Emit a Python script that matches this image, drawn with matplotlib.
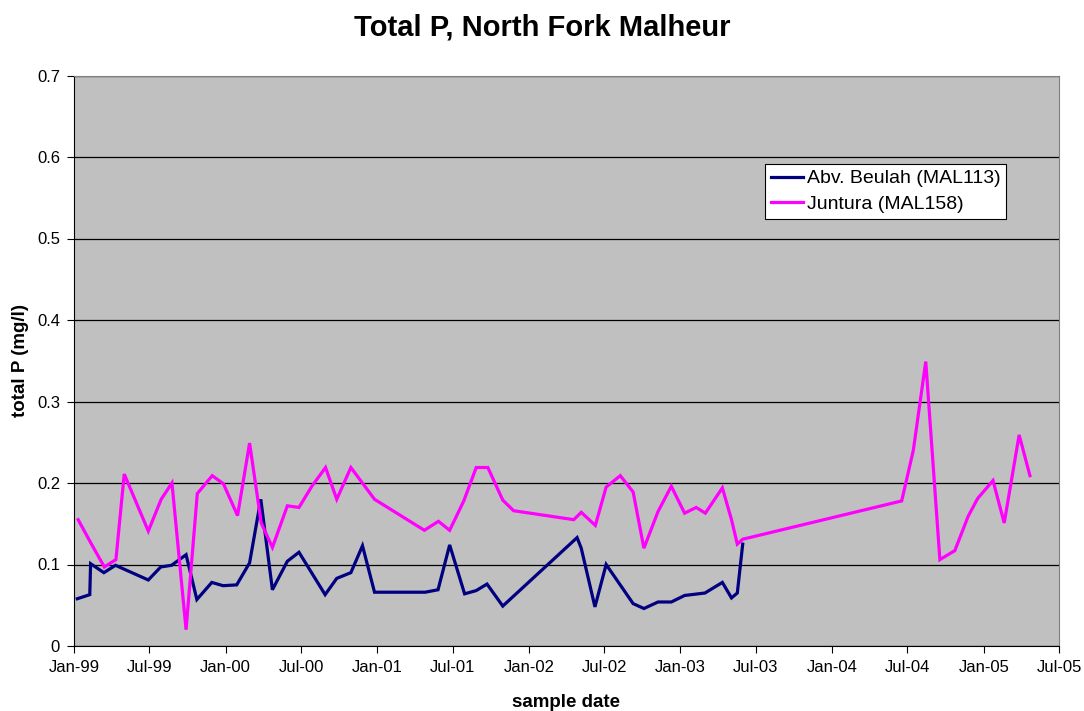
import matplotlib
matplotlib.use("Agg")
import matplotlib.pyplot as plt
import matplotlib.dates as mdates
import pandas as pd

plt.rcParams['font.family'] = ['Liberation Sans', 'DejaVu Sans']

beulah_dates = ["1999-01-09", "1999-02-08", "1999-02-10", "1999-03-14", "1999-04-11",
                "1999-06-29", "1999-07-29", "1999-08-24", "1999-09-28", "1999-10-24",
                "1999-11-29", "1999-12-26", "2000-01-28", "2000-02-28", "2000-03-26",
                "2000-04-23", "2000-05-29", "2000-06-26", "2000-08-28", "2000-09-25",
                "2000-10-29", "2000-11-26", "2000-12-25", "2001-04-26", "2001-05-27",
                "2001-06-24", "2001-07-30", "2001-08-27", "2001-09-22", "2001-10-30",
                "2002-04-27", "2002-05-07", "2002-06-09", "2002-07-06", "2002-09-09",
                "2002-10-05", "2002-11-08", "2002-12-10", "2003-01-11", "2003-03-01",
                "2003-04-12", "2003-05-04", "2003-05-18", "2003-05-31"]
beulah_vals = [0.058, 0.063, 0.101, 0.090, 0.099,
               0.081, 0.097, 0.099, 0.112, 0.057,
               0.078, 0.074, 0.075, 0.102, 0.180,
               0.069, 0.104, 0.115, 0.063, 0.083,
               0.090, 0.123, 0.066, 0.066, 0.069,
               0.124, 0.064, 0.068, 0.076, 0.049,
               0.133, 0.120, 0.048, 0.100, 0.052,
               0.046, 0.054, 0.054, 0.062, 0.065,
               0.078, 0.059, 0.065, 0.125]

juntura_dates = ["1999-01-11", "1999-02-11", "1999-03-15", "1999-04-12", "1999-05-02",
                 "1999-06-29", "1999-07-30", "1999-08-25", "1999-09-28", "1999-10-25",
                 "1999-11-30", "1999-12-27", "2000-01-30", "2000-02-28", "2000-03-27",
                 "2000-04-23", "2000-05-29", "2000-06-26", "2000-07-27", "2000-08-29",
                 "2000-09-25", "2000-10-29", "2000-12-25", "2001-04-24", "2001-05-28",
                 "2001-06-24", "2001-07-28", "2001-08-27", "2001-09-24", "2001-10-30",
                 "2001-11-25", "2002-04-19", "2002-05-07", "2002-06-10", "2002-07-06",
                 "2002-08-09", "2002-09-09", "2002-10-05", "2002-11-08", "2002-12-10",
                 "2003-01-11", "2003-02-08", "2003-03-02", "2003-04-12", "2003-05-04",
                 "2003-05-18", "2003-05-31", "2004-06-17", "2004-07-15", "2004-08-14",
                 "2004-09-17", "2004-10-23", "2004-11-24", "2004-12-17", "2005-01-23",
                 "2005-02-19", "2005-03-27", "2005-04-22"]
juntura_vals = [0.155, 0.126, 0.097, 0.106, 0.211,
                0.141, 0.180, 0.200, 0.020, 0.187,
                0.209, 0.199, 0.160, 0.249, 0.151,
                0.121, 0.172, 0.170, 0.196, 0.219,
                0.180, 0.219, 0.180, 0.142, 0.153,
                0.142, 0.178, 0.219, 0.219, 0.179,
                0.166, 0.155, 0.164, 0.148, 0.195,
                0.209, 0.189, 0.120, 0.165, 0.196,
                0.163, 0.170, 0.163, 0.194, 0.155,
                0.125, 0.131, 0.178, 0.240, 0.349,
                0.106, 0.117, 0.159, 0.181, 0.203,
                0.151, 0.259, 0.209]

tick_dates = pd.date_range("1999-01-01", "2005-07-01", freq="6MS")
yticks = [0, 0.1, 0.2, 0.3, 0.4, 0.5, 0.6, 0.7]

fig = plt.figure(figsize=(10.84, 7.11), dpi=100)
ax = fig.add_axes([74/1084, 1-646/711, (1059-74)/1084, (646-75.5)/711])
ax.set_facecolor('#c0c0c0')

ax.plot(pd.to_datetime(beulah_dates), beulah_vals, color='#000080', lw=2.3,
        label='Abv. Beulah (MAL113)', solid_joinstyle='miter')
ax.plot(pd.to_datetime(juntura_dates), juntura_vals, color='#ff00ff', lw=2.3,
        label='Juntura (MAL158)', solid_joinstyle='miter')

ax.set_xlim(tick_dates[0], tick_dates[-1])
ax.set_ylim(0, 0.7)
ax.set_xticks(tick_dates)
ax.xaxis.set_major_formatter(mdates.DateFormatter('%b-%y'))
ax.set_yticks(yticks)
ax.set_yticklabels(['0' if v == 0 else f'{v:.1f}' for v in yticks])
ax.yaxis.grid(True, color='black', lw=0.9)
ax.set_axisbelow(True)
ax.tick_params(axis='both', labelsize=12, direction='out', length=5, width=0.8,
               color='black', pad=5)
for s in ['top', 'right']:
    ax.spines[s].set_color('#808080')
for s in ['left', 'bottom']:
    ax.spines[s].set_color('black')

ax.set_xlabel('sample date', fontsize=13.5, fontweight='bold', labelpad=14)
ax.set_ylabel('total P (mg/l)', fontsize=13.5, fontweight='bold', labelpad=6)
fig.text(0.5, 1-28/711, 'Total P, North Fork Malheur', ha='center', va='center',
         fontsize=21, fontweight='bold')

leg = ax.legend(loc='upper left', bbox_to_anchor=((765-74)/985, (646-164)/570.5),
                frameon=True, fancybox=False, framealpha=1, edgecolor='black',
                fontsize=14, handlelength=1.65, borderpad=0.3, labelspacing=0.4,
                handletextpad=0.2, borderaxespad=0)
leg.get_frame().set_linewidth(0.8)

fig.savefig('out.png', dpi=100)
